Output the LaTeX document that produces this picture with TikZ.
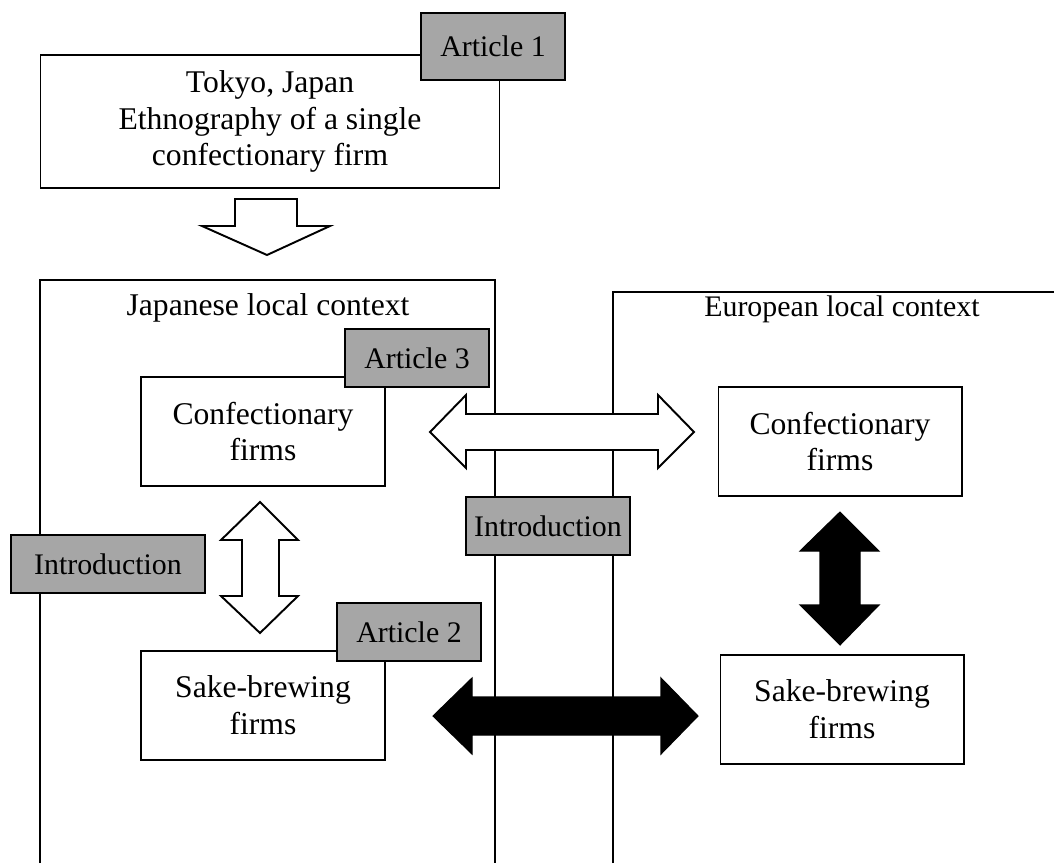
\documentclass[tikz,border=0pt]{standalone}
\usepackage{fontspec}
\setmainfont{Liberation Serif}
\usetikzlibrary{positioning}

\definecolor{labelgray}{RGB}{166,166,166}

\tikzset{
    firmbox/.style={draw, fill=white, line width=0.6pt, align=center,
        minimum width=4.88cm, minimum height=2.18cm, inner sep=2pt},
    labelbox/.style={draw, fill=labelgray, line width=0.6pt,
        minimum width=2.88cm, minimum height=1.16cm, inner sep=2pt,
        font=\fontsize{17}{20}\selectfont},
    ctxline/.style={draw, line width=0.6pt},
    whitearrow/.style={draw, fill=white, line width=1.1pt, line join=miter},
    blackarrow/.style={draw, fill=black, line width=0.6pt, line join=miter},
}

\begin{document}
\begin{tikzpicture}[x=0.02cm, y=-0.02cm,
    every node/.style={font=\fontsize{18}{21}\selectfont}]

    \useasboundingbox (0,0) rectangle (1054,863);

    % Context frames (open at the bottom)
    \draw[ctxline] (40,863) -- (40,280) -- (495,280) -- (495,863);
    \draw[ctxline] (613,863) -- (613,292) -- (1054,292);
    \node (japctx) at (268,308) {Japanese local context};
    \node[font=\fontsize{17}{20}\selectfont] (eurctx) at (842,309) {European local context};

    % Starting point
    \node[firmbox, minimum width=9.2cm, minimum height=2.66cm] (tokyo) at (270,121.5)
        {Tokyo, Japan\\Ethnography of a single\\confectionary firm};
    \node[labelbox, minimum height=1.34cm] (art1) at (493,46.5) {Article 1};

    % Down arrow
    \draw[whitearrow] (235,199) -- (297,199) -- (297,226) -- (330,226) -- (267,255)
        -- (202,226) -- (235,226) -- cycle;

    % Firms
    \node[firmbox] (jconf) at (263,431.5) {Confectionary\\firms};
    \node[firmbox] (jsake) at (263,705.5) {Sake-brewing\\firms};
    \node[firmbox] (econf) at (840,441.5) {Confectionary\\firms};
    \node[firmbox] (esake) at (842,709.5) {Sake-brewing\\firms};

    % Comparisons
    \draw[whitearrow] (430,432) -- (466,395) -- (466,414) -- (658,414) -- (658,395)
        -- (694,432) -- (658,468) -- (658,450) -- (466,450) -- (466,468) -- cycle;
    \draw[whitearrow] (260,502) -- (298,540) -- (279,540) -- (279,596) -- (298,596)
        -- (260,633) -- (221,596) -- (242,596) -- (242,540) -- (221,540) -- cycle;
    \draw[blackarrow] (433,716) -- (472,678) -- (472,697) -- (661,697) -- (661,678)
        -- (698,716) -- (661,754) -- (661,735) -- (472,735) -- (472,754) -- cycle;
    \draw[blackarrow] (840,512) -- (879,551) -- (860,551) -- (860,605) -- (879,605)
        -- (840,645) -- (800,605) -- (820,605) -- (820,551) -- (800,551) -- cycle;

    % Article labels
    \node[labelbox] (art3) at (417,358) {Article 3};
    \node[labelbox] (art2) at (409,632) {Article 2};
    \node[labelbox, minimum width=3.88cm] (intro1) at (108,564) {Introduction};
    \node[labelbox, minimum width=3.28cm] (intro2) at (548,526) {Introduction};

\end{tikzpicture}
\end{document}
